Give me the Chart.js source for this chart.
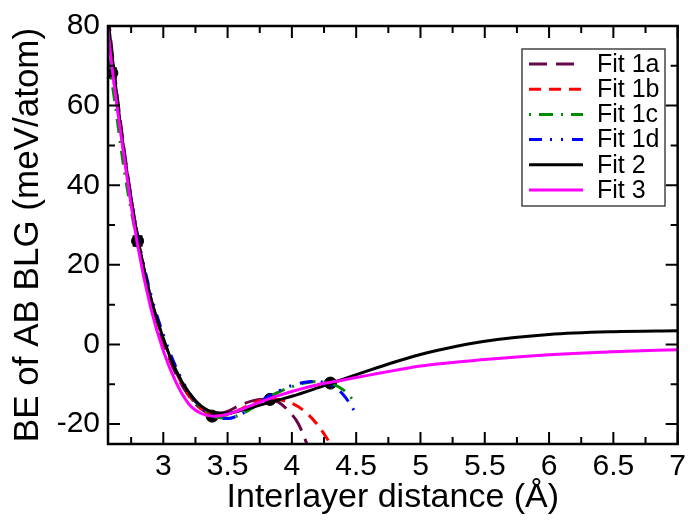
<!DOCTYPE html>
<html>
<head>
<meta charset="utf-8">
<script src="https://cdn.jsdelivr.net/npm/chart.js@4"></script>
<style>
  body{margin:0;background:#fff;}
  #wrap{width:691px;height:524px;position:relative;}
</style>
</head>
<body>
<div id="wrap"><canvas id="chart"></canvas></div>
<script>
// measured binding energies with error bars
const dataX=[2.6,2.8,3.38,3.83,4.3];
const dataY=[68.2,26,-18,-13.8,-9.7];
const dataErr=[1.2,1.2,0.8,0.8,0.8];

const fit1aX=[2.55,2.6,2.7,2.8,2.9,3.0,3.1,3.2,3.3,3.4,3.5,3.6,3.7,3.8,3.85,3.9,4.0,4.05,4.1,4.15];
const fit1aY=[90,74,48,27,11.5,0.5,-7.5,-13,-16.3,-17.6,-16.8,-15.2,-14.1,-13.7,-13.9,-14.6,-17.6,-19.9,-23.6,-28];

const fit1bX=[2.55,2.6,2.7,2.8,2.9,3.0,3.1,3.2,3.3,3.4,3.5,3.6,3.7,3.8,3.9,4.0,4.1,4.2,4.3,4.35];
const fit1bY=[86,72,47,27,12,1,-7,-12.8,-16.3,-17.9,-17.6,-16.3,-14.8,-13.7,-13.9,-14.8,-16.8,-20.2,-25,-28];

const fit1cX=[2.55,2.6,2.7,2.8,2.9,3.0,3.1,3.2,3.3,3.4,3.5,3.6,3.7,3.8,3.9,4.0,4.1,4.2,4.3,4.4,4.5];
const fit1cY=[75,66,43,25.5,12,1.5,-6.5,-12.3,-16,-18.2,-18.5,-17.6,-15.8,-13.6,-11.9,-10.6,-9.7,-9.3,-9.7,-11.4,-14.8];

const fit1dX=[2.55,2.6,2.7,2.8,2.9,3.0,3.1,3.2,3.3,3.4,3.5,3.6,3.7,3.8,3.9,4.0,4.1,4.2,4.3,4.4,4.5];
const fit1dY=[82,70,47,27.5,13,2.5,-5.8,-12,-16,-18.3,-18.6,-17.6,-15.7,-13.4,-11.6,-10.3,-9.5,-9.3,-10.2,-12.6,-17.4];

const fit2X=[2.55,2.6,2.7,2.8,2.9,3.0,3.1,3.2,3.3,3.4,3.5,3.6,3.7,3.8,3.9,4.0,4.2,4.4,4.6,4.8,5.0,5.2,5.5,6.0,6.5,7.0];
const fit2Y=[88,73,47,27,12,1.5,-6.7,-12.1,-15.6,-17.1,-17.3,-16.6,-15.7,-14.8,-13.9,-13.0,-10.9,-8.7,-6.5,-4.4,-2.5,-1.0,0.8,2.5,3.2,3.45];

const fit3X=[2.55,2.6,2.7,2.8,2.9,3.0,3.1,3.2,3.3,3.4,3.5,3.6,3.7,3.8,3.9,4.0,4.2,4.4,4.6,4.8,5.0,5.5,6.0,6.5,7.0];
const fit3Y=[85,70,46,25,9.5,-1.6,-9.6,-15,-17.4,-18,-17.5,-16.4,-15.1,-13.9,-12.8,-11.8,-10.1,-8.9,-7.7,-6.5,-5.4,-3.8,-2.6,-1.8,-1.3];

const xTitle="Interlayer distance (Å)";
const yTitle="BE of AB BLG (meV/atom)";

const FONT="'Liberation Sans', Arial, sans-serif";

function pts(xs,ys){return xs.map((x,i)=>({x:x,y:ys[i]}));}

function fitSet(label,xs,ys,color,dash,order){
    return {type:'line',label:label,data:pts(xs,ys),borderColor:color,backgroundColor:color,
        borderWidth:3,borderDash:dash,pointRadius:0,cubicInterpolationMode:'monotone',
        fill:false,clip:0,order:order,isFit:true};
}

const datasets=[
    fitSet("Fit 1a",fit1aX,fit1aY,'#670748',[18,9],6),
    fitSet("Fit 1b",fit1bX,fit1bY,'#ff0000',[12,8],5),
    fitSet("Fit 1c",fit1cX,fit1cY,'#008b00',[2,8,14,8],4),
    fitSet("Fit 1d",fit1dX,fit1dY,'#0000ff',[13,8,2,9,2,9],3),
    fitSet("Fit 2",fit2X,fit2Y,'#000000',[],2),
    fitSet("Fit 3",fit3X,fit3Y,'#ff00ff',[],1),
    {type:'scatter',label:'data',data:pts(dataX,dataY),pointRadius:6,pointBackgroundColor:'#000',
        pointBorderColor:'#000',showLine:false,order:10,isFit:false}
];

// frame, inward ticks, error bars and legend box
const decor={
    id:'decor',
    beforeDatasetsDraw(chart){
        const ctx=chart.ctx, xs=chart.scales.x, ys=chart.scales.y;
        ctx.save();
        ctx.strokeStyle='#000';ctx.lineWidth=2;
        for(let i=0;i<dataX.length;i++){
            const px=xs.getPixelForValue(dataX[i]);
            const top=ys.getPixelForValue(dataY[i]+dataErr[i]);
            const bot=ys.getPixelForValue(dataY[i]-dataErr[i]);
            ctx.beginPath();
            ctx.moveTo(px,top);ctx.lineTo(px,bot);
            ctx.moveTo(px-5,top);ctx.lineTo(px+5,top);
            ctx.moveTo(px-5,bot);ctx.lineTo(px+5,bot);
            ctx.stroke();
        }
        ctx.restore();
    },
    afterDatasetsDraw(chart){
        const ctx=chart.ctx, a=chart.chartArea, xs=chart.scales.x, ys=chart.scales.y;
        ctx.save();
        ctx.strokeStyle='#000';ctx.lineWidth=2.5;
        ctx.strokeRect(a.left,a.top,a.right-a.left,a.bottom-a.top);
        ctx.lineWidth=2;
        const tickList=(s)=>{
            const vals=s.ticks.map(t=>t.value);
            const step=vals[1]-vals[0];
            const out=vals.map(v=>({v:v,major:true}));
            for(let v=vals[0]-step/2;v<=s.max+1e-9;v+=step){
                if(v>=s.min) out.push({v:v,major:false});
            }
            return out;
        };
        tickList(xs).forEach(t=>{
            const p=xs.getPixelForValue(t.v), L=t.major?12:7;
            ctx.beginPath();
            ctx.moveTo(p,a.bottom);ctx.lineTo(p,a.bottom-L);
            ctx.moveTo(p,a.top);ctx.lineTo(p,a.top+L);
            ctx.stroke();
        });
        tickList(ys).forEach(t=>{
            const p=ys.getPixelForValue(t.v), L=t.major?12:7;
            ctx.beginPath();
            ctx.moveTo(a.left,p);ctx.lineTo(a.left+L,p);
            ctx.moveTo(a.right,p);ctx.lineTo(a.right-L,p);
            ctx.stroke();
        });

        // legend
        const bx=522, by=49, bw=143, bh=157;
        ctx.fillStyle='#fff';
        ctx.fillRect(bx,by,bw,bh);
        ctx.strokeStyle='#444';ctx.lineWidth=1.5;
        ctx.strokeRect(bx,by,bw,bh);
        ctx.font='25px '+FONT;
        ctx.textBaseline='middle';ctx.textAlign='left';
        const fits=chart.data.datasets.filter(d=>d.isFit);
        fits.forEach((d,i)=>{
            const y=64+i*25.2;
            ctx.strokeStyle=d.borderColor;ctx.lineWidth=3;
            ctx.setLineDash(d.borderDash);
            ctx.beginPath();ctx.moveTo(529,y);ctx.lineTo(583,y);ctx.stroke();
            ctx.setLineDash([]);
            ctx.fillStyle='#000';
            ctx.fillText(d.label,597,y+1);
        });
        ctx.restore();
    }
};

new Chart(document.getElementById('chart'),{
    data:{datasets:datasets},
    options:{
        responsive:true,maintainAspectRatio:false,animation:false,
        layout:{padding:{top:18,right:7,left:0,bottom:0}},
        plugins:{legend:{display:false},tooltip:{enabled:false}},
        scales:{
            x:{type:'linear',min:2.57,max:7,
                afterFit:s=>{s.height=80;},
                grid:{display:false,drawTicks:false},border:{display:false},
                ticks:{stepSize:0.5,includeBounds:false,padding:5,color:'#000',font:{family:FONT,size:30},
                    callback:v=>String(v)},
                title:{display:true,text:xTitle,color:'#000',font:{family:FONT,size:34},padding:{top:0,bottom:6}}},
            y:{type:'linear',min:-25,max:80,
                afterFit:s=>{s.width=108;},
                grid:{display:false,drawTicks:false},border:{display:false},
                ticks:{stepSize:20,includeBounds:false,padding:8,color:'#000',font:{family:FONT,size:30}},
                title:{display:true,text:yTitle,color:'#000',font:{family:FONT,size:35},padding:{top:7,bottom:0}}}
        }
    },
    plugins:[decor]
});
</script>
</body>
</html>
